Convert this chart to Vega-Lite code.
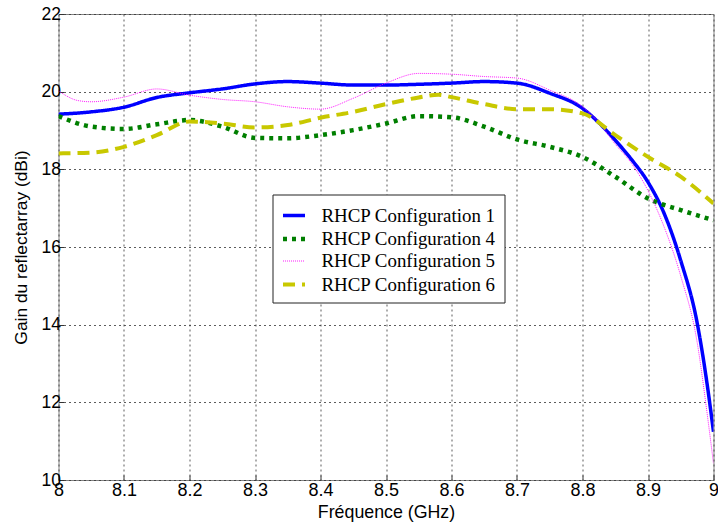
{
  "$schema": "https://vega.github.io/schema/vega-lite/v6.json",
  "autosize": {"type": "none"},
  "width": 655,
  "height": 466,
  "padding": {"left": 58.5, "top": 14, "right": 4, "bottom": 44},
  "background": "white",
  "config": {
    "view": {"stroke": "#808080", "strokeWidth": 1},
    "axis": {
      "labelFont": "Liberation Sans",
      "titleFont": "Liberation Sans",
      "labelColor": "black",
      "titleColor": "black",
      "titleFontWeight": "normal",
      "domain": false,
      "grid": true,
      "gridColor": "#333333",
      "gridDash": [2, 3],
      "gridWidth": 1,
      "gridOpacity": 0.8,
      "tickColor": "#333333",
      "tickSize": -5
    },
    "legend": {
      "labelFont": "Liberation Serif, Times New Roman, Times, serif",
      "labelFontSize": 18.9,
      "labelColor": "black",
      "symbolType": "stroke",
      "symbolSize": 484,
      "labelOffset": 14,
      "rowPadding": 0,
      "padding": 8,
      "fillColor": "white",
      "strokeColor": "#222222",
      "labelLimit": 300
    }
  },
  "data": {
    "values": [
      {"f": 8.0, "g": 19.42, "c": "RHCP Configuration 1"},
      {"f": 8.05, "g": 19.48, "c": "RHCP Configuration 1"},
      {"f": 8.1, "g": 19.6, "c": "RHCP Configuration 1"},
      {"f": 8.15, "g": 19.85, "c": "RHCP Configuration 1"},
      {"f": 8.2, "g": 19.97, "c": "RHCP Configuration 1"},
      {"f": 8.25, "g": 20.07, "c": "RHCP Configuration 1"},
      {"f": 8.3, "g": 20.2, "c": "RHCP Configuration 1"},
      {"f": 8.35, "g": 20.26, "c": "RHCP Configuration 1"},
      {"f": 8.4, "g": 20.22, "c": "RHCP Configuration 1"},
      {"f": 8.45, "g": 20.17, "c": "RHCP Configuration 1"},
      {"f": 8.5, "g": 20.17, "c": "RHCP Configuration 1"},
      {"f": 8.55, "g": 20.19, "c": "RHCP Configuration 1"},
      {"f": 8.6, "g": 20.22, "c": "RHCP Configuration 1"},
      {"f": 8.65, "g": 20.26, "c": "RHCP Configuration 1"},
      {"f": 8.7, "g": 20.22, "c": "RHCP Configuration 1"},
      {"f": 8.75, "g": 19.96, "c": "RHCP Configuration 1"},
      {"f": 8.8, "g": 19.57, "c": "RHCP Configuration 1"},
      {"f": 8.825, "g": 19.2, "c": "RHCP Configuration 1"},
      {"f": 8.85, "g": 18.75, "c": "RHCP Configuration 1"},
      {"f": 8.875, "g": 18.25, "c": "RHCP Configuration 1"},
      {"f": 8.9, "g": 17.67, "c": "RHCP Configuration 1"},
      {"f": 8.925, "g": 16.85, "c": "RHCP Configuration 1"},
      {"f": 8.95, "g": 15.65, "c": "RHCP Configuration 1"},
      {"f": 8.975, "g": 14.05, "c": "RHCP Configuration 1"},
      {"f": 8.99, "g": 12.5, "c": "RHCP Configuration 1"},
      {"f": 9.0, "g": 11.24, "c": "RHCP Configuration 1"},

      {"f": 8.0, "g": 19.37, "c": "RHCP Configuration 4"},
      {"f": 8.05, "g": 19.1, "c": "RHCP Configuration 4"},
      {"f": 8.1, "g": 19.04, "c": "RHCP Configuration 4"},
      {"f": 8.15, "g": 19.16, "c": "RHCP Configuration 4"},
      {"f": 8.2, "g": 19.27, "c": "RHCP Configuration 4"},
      {"f": 8.25, "g": 19.1, "c": "RHCP Configuration 4"},
      {"f": 8.3, "g": 18.81, "c": "RHCP Configuration 4"},
      {"f": 8.35, "g": 18.8, "c": "RHCP Configuration 4"},
      {"f": 8.4, "g": 18.88, "c": "RHCP Configuration 4"},
      {"f": 8.45, "g": 19.01, "c": "RHCP Configuration 4"},
      {"f": 8.5, "g": 19.18, "c": "RHCP Configuration 4"},
      {"f": 8.55, "g": 19.37, "c": "RHCP Configuration 4"},
      {"f": 8.6, "g": 19.34, "c": "RHCP Configuration 4"},
      {"f": 8.65, "g": 19.1, "c": "RHCP Configuration 4"},
      {"f": 8.7, "g": 18.77, "c": "RHCP Configuration 4"},
      {"f": 8.75, "g": 18.58, "c": "RHCP Configuration 4"},
      {"f": 8.8, "g": 18.32, "c": "RHCP Configuration 4"},
      {"f": 8.85, "g": 17.81, "c": "RHCP Configuration 4"},
      {"f": 8.9, "g": 17.25, "c": "RHCP Configuration 4"},
      {"f": 8.95, "g": 16.95, "c": "RHCP Configuration 4"},
      {"f": 9.0, "g": 16.69, "c": "RHCP Configuration 4"},

      {"f": 8.0, "g": 20.02, "c": "RHCP Configuration 5"},
      {"f": 8.03, "g": 19.77, "c": "RHCP Configuration 5"},
      {"f": 8.05, "g": 19.74, "c": "RHCP Configuration 5"},
      {"f": 8.1, "g": 19.86, "c": "RHCP Configuration 5"},
      {"f": 8.15, "g": 20.07, "c": "RHCP Configuration 5"},
      {"f": 8.2, "g": 19.91, "c": "RHCP Configuration 5"},
      {"f": 8.25, "g": 19.8, "c": "RHCP Configuration 5"},
      {"f": 8.3, "g": 19.74, "c": "RHCP Configuration 5"},
      {"f": 8.35, "g": 19.61, "c": "RHCP Configuration 5"},
      {"f": 8.4, "g": 19.55, "c": "RHCP Configuration 5"},
      {"f": 8.45, "g": 19.83, "c": "RHCP Configuration 5"},
      {"f": 8.5, "g": 20.22, "c": "RHCP Configuration 5"},
      {"f": 8.55, "g": 20.47, "c": "RHCP Configuration 5"},
      {"f": 8.6, "g": 20.45, "c": "RHCP Configuration 5"},
      {"f": 8.65, "g": 20.39, "c": "RHCP Configuration 5"},
      {"f": 8.7, "g": 20.35, "c": "RHCP Configuration 5"},
      {"f": 8.75, "g": 20.04, "c": "RHCP Configuration 5"},
      {"f": 8.8, "g": 19.61, "c": "RHCP Configuration 5"},
      {"f": 8.825, "g": 19.2, "c": "RHCP Configuration 5"},
      {"f": 8.85, "g": 18.65, "c": "RHCP Configuration 5"},
      {"f": 8.875, "g": 18.15, "c": "RHCP Configuration 5"},
      {"f": 8.9, "g": 17.45, "c": "RHCP Configuration 5"},
      {"f": 8.925, "g": 16.5, "c": "RHCP Configuration 5"},
      {"f": 8.95, "g": 15.25, "c": "RHCP Configuration 5"},
      {"f": 8.975, "g": 13.55, "c": "RHCP Configuration 5"},
      {"f": 8.99, "g": 11.75, "c": "RHCP Configuration 5"},
      {"f": 9.0, "g": 10.42, "c": "RHCP Configuration 5"},

      {"f": 8.0, "g": 18.41, "c": "RHCP Configuration 6"},
      {"f": 8.05, "g": 18.43, "c": "RHCP Configuration 6"},
      {"f": 8.1, "g": 18.58, "c": "RHCP Configuration 6"},
      {"f": 8.15, "g": 18.88, "c": "RHCP Configuration 6"},
      {"f": 8.2, "g": 19.23, "c": "RHCP Configuration 6"},
      {"f": 8.25, "g": 19.18, "c": "RHCP Configuration 6"},
      {"f": 8.3, "g": 19.08, "c": "RHCP Configuration 6"},
      {"f": 8.35, "g": 19.14, "c": "RHCP Configuration 6"},
      {"f": 8.4, "g": 19.33, "c": "RHCP Configuration 6"},
      {"f": 8.45, "g": 19.48, "c": "RHCP Configuration 6"},
      {"f": 8.5, "g": 19.68, "c": "RHCP Configuration 6"},
      {"f": 8.55, "g": 19.85, "c": "RHCP Configuration 6"},
      {"f": 8.58, "g": 19.92, "c": "RHCP Configuration 6"},
      {"f": 8.6, "g": 19.86, "c": "RHCP Configuration 6"},
      {"f": 8.65, "g": 19.68, "c": "RHCP Configuration 6"},
      {"f": 8.7, "g": 19.55, "c": "RHCP Configuration 6"},
      {"f": 8.75, "g": 19.55, "c": "RHCP Configuration 6"},
      {"f": 8.8, "g": 19.44, "c": "RHCP Configuration 6"},
      {"f": 8.85, "g": 18.88, "c": "RHCP Configuration 6"},
      {"f": 8.9, "g": 18.32, "c": "RHCP Configuration 6"},
      {"f": 8.95, "g": 17.81, "c": "RHCP Configuration 6"},
      {"f": 9.0, "g": 17.12, "c": "RHCP Configuration 6"}
    ]
  },
  "mark": {"type": "line", "interpolate": "monotone", "clip": true},
  "encoding": {
    "x": {
      "field": "f", "type": "quantitative",
      "scale": {"domain": [8, 9], "nice": false, "zero": false},
      "axis": {"values": [8, 8.1, 8.2, 8.3, 8.4, 8.5, 8.6, 8.7, 8.8, 8.9, 9], "labelExpr": "datum.value == 8 || datum.value == 9 ? format(datum.value, 'd') : format(datum.value, '.1f')", "labelFontSize": 18, "labelPadding": 6, "title": "Fréquence (GHz)", "titleFontSize": 17.8, "titlePadding": 4, "labelFlush": false}
    },
    "y": {
      "field": "g", "type": "quantitative",
      "scale": {"domain": [10, 22], "nice": false, "zero": false},
      "axis": {"values": [10, 12, 14, 16, 18, 20, 22], "labelFontSize": 17.5, "labelPadding": 3, "title": "Gain du reflectarray (dBi)", "titleFontSize": 17.4, "titlePadding": 11, "labelFlush": false}
    },
    "color": {
      "field": "c", "type": "nominal",
      "scale": {"domain": ["RHCP Configuration 1", "RHCP Configuration 4", "RHCP Configuration 5", "RHCP Configuration 6"], "range": ["#0000ff", "#007f00", "#ff00ff", "#c8c800"]},
      "legend": {"title": null, "orient": "none", "legendX": 214, "legendY": 180.5}
    },
    "strokeDash": {
      "field": "c", "type": "nominal",
      "scale": {"domain": ["RHCP Configuration 1", "RHCP Configuration 4", "RHCP Configuration 5", "RHCP Configuration 6"], "range": [[1, 0], [4, 5], [1, 1], [12, 7]]},
      "legend": {"title": null, "orient": "none", "legendX": 214, "legendY": 180.5}
    },
    "strokeWidth": {
      "field": "c", "type": "nominal",
      "scale": {"type": "ordinal", "domain": ["RHCP Configuration 1", "RHCP Configuration 4", "RHCP Configuration 5", "RHCP Configuration 6"], "range": [3.5, 4.5, 0.9, 4]},
      "legend": {"title": null, "orient": "none", "legendX": 214, "legendY": 180.5}
    }
  }
}
